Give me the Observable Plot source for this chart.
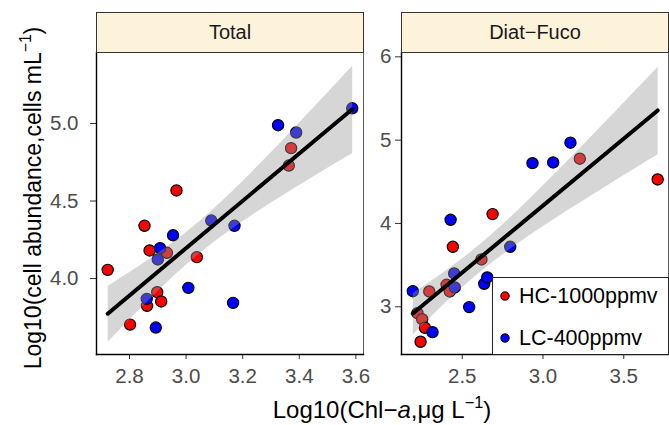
<!DOCTYPE html>
<html>
<head>
<meta charset="utf-8">
<script src="https://cdn.jsdelivr.net/npm/d3@7"></script>
<script src="https://cdn.jsdelivr.net/npm/@observablehq/plot@0.6"></script>
<style>
  html, body { margin: 0; padding: 0; background: #fff; }
  #root { position: relative; width: 669px; height: 425px; background: #fff; overflow: hidden;
          font-family: 'Liberation Sans', Arial, Helvetica, sans-serif; }
  .strip { position: absolute; top: 12px; height: 39px; width: 266px; border: 1px solid #333;
           background: #FDF3DB; color: #1a1a1a; font-size: 20px; display: flex;
           align-items: center; justify-content: center; box-sizing: content-box; }
  .plot { position: absolute; top: 0; }
  .ytitle { position: absolute; width: 420px; height: 26px; line-height: 26px; font-size: 23px;
            text-align: center; color: #000; transform: rotate(-90deg); transform-origin: 50% 50%; white-space: nowrap; }
  .xtitle { position: absolute; width: 500px; height: 26px; line-height: 26px; font-size: 24px;
            text-align: center; color: #000; white-space: nowrap; }
  .sup { font-size: 0.68em; vertical-align: 0.62em; line-height: 0; }
  .legend { position: absolute; left: 492px; top: 277px; width: 175px; height: 76px; background: #fff;
            border: 1px solid #222; font-size: 21.5px; color: #000; }
  .lrow { position: absolute; left: 0; height: 30px; display: flex; align-items: center; }
  .lrow svg { margin-left: 6px; margin-right: 8px; }
</style>
</head>
<body>
<div id="root"></div>
<script>
// ---------------- data ----------------
const groups = ["HC-1000ppmv", "LC-400ppmv"];
const groupColors = ["#FF0000", "#0000FF"];
const facetLabels = ["Total", "Diat\u2212Fuco"];

// Total
const totalHC_x = [2.723, 2.802, 2.853, 2.862, 2.871, 2.898, 2.912, 2.932, 2.966, 3.038, 3.363, 3.371];
const totalHC_y = [4.056, 3.703, 4.340, 3.824, 4.181, 3.912, 3.852, 4.166, 4.568, 4.138, 4.729, 4.841];
const totalLC_x = [2.861, 2.893, 2.900, 2.908, 2.954, 3.008, 3.089, 3.166, 3.171, 3.325, 3.389, 3.587];
const totalLC_y = [3.869, 3.684, 4.123, 4.196, 4.279, 3.940, 4.374, 3.843, 4.340, 4.989, 4.942, 5.098];

// Diat-Fuco
const diatHC_x = [2.223, 2.242, 2.252, 2.269, 2.296, 2.403, 2.423, 2.442, 2.619, 2.688, 3.228, 3.710];
const diatHC_y = [2.923, 2.580, 2.851, 2.748, 3.184, 3.264, 3.184, 3.720, 3.568, 4.112, 4.777, 4.528];
const diatLC_x = [2.194, 2.316, 2.428, 2.450, 2.454, 2.543, 2.636, 2.655, 2.797, 2.935, 3.063, 3.170];
const diatLC_y = [3.187, 2.695, 4.044, 3.400, 3.232, 2.996, 3.276, 3.352, 3.720, 4.724, 4.732, 4.969];

// axes
const totalXTicks = [2.8, 3.0, 3.2, 3.4, 3.6];
const totalYTicks = [4.0, 4.5, 5.0];
const diatXTicks = [2.5, 3.0, 3.5];
const diatYTicks = [3, 4, 5, 6];
const totalXDomain = [2.6834, 3.6269];
const totalYDomain = [3.510, 5.458];
const diatXDomain = [2.124, 3.777];
const diatYDomain = [2.427, 6.052];

// ---------------- build ----------------
const rows = (xs, ys, g) => xs.map((x, i) => ({x, y: ys[i], group: g}));
const totalData = [...rows(totalHC_x, totalHC_y, groups[0]), ...rows(totalLC_x, totalLC_y, groups[1])];
const diatData = [...rows(diatHC_x, diatHC_y, groups[0]), ...rows(diatLC_x, diatLC_y, groups[1])];

const FONT = "'Liberation Sans', Arial, Helvetica, sans-serif";

function panel(data, opts) {
  return Plot.plot({
    width: opts.width, height: 425,
    marginLeft: opts.marginLeft, marginRight: opts.marginRight, marginTop: 52, marginBottom: 71,
    style: {fontFamily: FONT, fontSize: "20.5px", background: "transparent", overflow: "visible"},
    x: {domain: opts.xDomain},
    y: {domain: opts.yDomain},
    color: {domain: groups, range: groupColors},
    marks: [
      Plot.axisX({ticks: opts.xTicks, tickFormat: d3.format(".1f"), tickSize: 5, tickPadding: 9,
                  label: null, stroke: "#333", fill: "#4d4d4d", fontSize: 20.5}),
      Plot.axisY({ticks: opts.yTicks, tickFormat: opts.yFormat, tickSize: 6, tickPadding: opts.yPad,
                  label: null, stroke: "#333", fill: "#4d4d4d", fontSize: 20.5}),
      Plot.dot(data, {x: "x", y: "y", fill: "group", r: 5.6, stroke: "black", strokeWidth: 1.2}),
      Plot.linearRegressionY(data, {x: "x", y: "y", stroke: "black", strokeWidth: 4,
                                    fill: "#999999", fillOpacity: 0.4, ci: 0.95}),
      Plot.frame({stroke: "#333", strokeWidth: 0.8}),
      Plot.frame({anchor: "left", stroke: "black", strokeWidth: 1.4}),
      Plot.frame({anchor: "bottom", stroke: "black", strokeWidth: 1.4})
    ]
  });
}

const root = document.getElementById("root");

const p1 = panel(totalData, {width: 370, marginLeft: 96, marginRight: 7, xDomain: totalXDomain,
  yDomain: totalYDomain, xTicks: totalXTicks, yTicks: totalYTicks, yFormat: d3.format(".1f"), yPad: 12});
p1.classList.add("plot"); p1.style.left = "0px";
root.appendChild(p1);

const p2 = panel(diatData, {width: 299, marginLeft: 31, marginRight: 1, xDomain: diatXDomain,
  yDomain: diatYDomain, xTicks: diatXTicks, yTicks: diatYTicks, yFormat: d3.format("d"), yPad: 4});
p2.classList.add("plot"); p2.style.left = "370px";
root.appendChild(p2);

// strips
[[96, facetLabels[0]], [401, facetLabels[1]]].forEach(([left, label]) => {
  const s = document.createElement("div");
  s.className = "strip";
  s.style.left = left + "px";
  s.textContent = label;
  root.appendChild(s);
});

// axis titles
const yt = document.createElement("div");
yt.className = "ytitle";
yt.style.left = (33 - 210) + "px";
yt.style.top = (198 - 13) + "px";
yt.innerHTML = "Log10(cell abundance,cells mL<span class='sup'>\u22121</span>)";
root.appendChild(yt);

const xt = document.createElement("div");
xt.className = "xtitle";
xt.style.left = (382 - 250) + "px";
xt.style.top = "397px";
xt.innerHTML = "Log10(Chl\u2212<i>a</i>,\u03BCg L<span class='sup'>\u22121</span>)";
root.appendChild(xt);

// legend
const lg = document.createElement("div");
lg.className = "legend";
groups.forEach((g, i) => {
  const r = document.createElement("div");
  r.className = "lrow";
  r.style.top = (i === 0 ? 3 : 45) + "px";
  r.innerHTML = `<svg width="12" height="12"><circle cx="6" cy="6" r="4.2" fill="${groupColors[i]}" stroke="black" stroke-width="1"/></svg><span>${g}</span>`;
  lg.appendChild(r);
});
root.appendChild(lg);
</script>
</body>
</html>
